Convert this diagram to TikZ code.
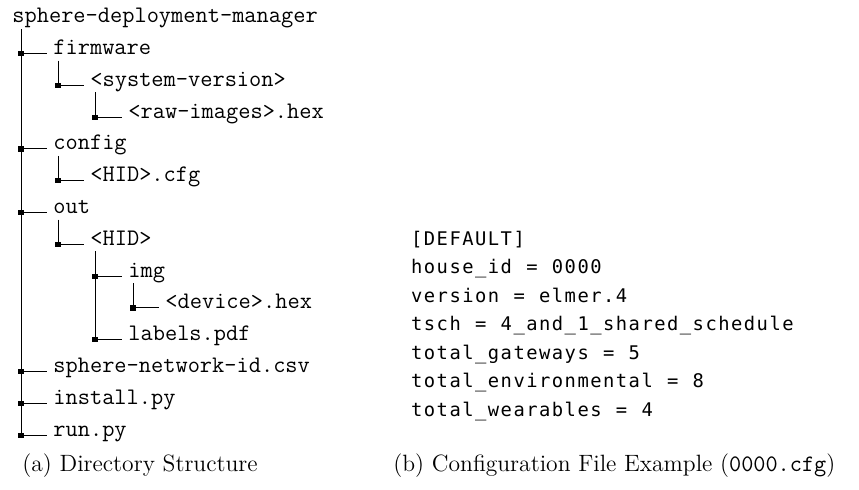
\documentclass[tikz,border=0pt]{standalone}
\usepackage{fontspec}
\newfontfamily\cfgfont{DejaVu Sans Mono}
\makeatletter
\newcommand\cellrow[1]{\@tfor\cellchar:=#1\do{\makebox[6.4pt][c]{\cellchar}}}
\makeatother
\begin{document}
\begin{tikzpicture}[x=0.5pt,y=-0.5pt]
  \tikzset{ entry/.style={anchor=base west, inner sep=0pt, font=\fontsize{11.86}{13}\selectfont\ttfamily},
    branch/.style={draw, line width=0.5pt},
    knot/.style={fill, rectangle, minimum size=2.6pt, inner sep=0pt},
    cfgline/.style={anchor=base west, inner sep=0pt, font=\fontsize{9.4}{11}\selectfont\cfgfont},
    caption/.style={anchor=base west, inner sep=0pt, font=\fontsize{11.8}{13}\selectfont} };
  \useasboundingbox (0,0) rectangle (859,489);
  % directory tree
  \node[entry] (root) at (12,22) {sphere-deployment-manager};
  \node[entry] (fw) at (53,54.5) {firmware};
  \node[entry] (sysver) at (90,86.3) {<system-version>};
  \node[entry] (raw) at (128,118.1) {<raw-images>.hex};
  \node[entry] (config) at (53,149.9) {config};
  \node[entry] (hidcfg) at (90,181.7) {<HID>.cfg};
  \node[entry] (out) at (53,213.5) {out};
  \node[entry] (hid) at (90,245.3) {<HID>};
  \node[entry] (img) at (128,277.1) {img};
  \node[entry] (device) at (165,308.9) {<device>.hex};
  \node[entry] (labels) at (128,340.7) {labels.pdf};
  \node[entry] (netid) at (53,372.5) {sphere-network-id.csv};
  \node[entry] (install) at (53,404.3) {install.py};
  \node[entry] (run) at (53,436.1) {run.py};
  \coordinate (s-root) at ([shift={(4.5pt,-3.5pt)}]root.base west);
  \coordinate (s-fw) at ([shift={(2.5pt,-3pt)}]fw.base west);
  \coordinate (s-sysver) at ([shift={(2.5pt,-3pt)}]sysver.base west);
  \coordinate (s-config) at ([shift={(2.5pt,-3pt)}]config.base west);
  \coordinate (s-out) at ([shift={(2.5pt,-3pt)}]out.base west);
  \coordinate (s-hid) at ([shift={(2.5pt,-3pt)}]hid.base west);
  \coordinate (s-img) at ([shift={(2.5pt,-3pt)}]img.base west);
  \draw[branch] (s-root) |- node[knot] (k-fw) {} ([shift={(-3pt,0.5pt)}]fw.base west);
  \draw[branch] (s-root) |- node[knot] (k-config) {} ([shift={(-3pt,0.5pt)}]config.base west);
  \draw[branch] (s-root) |- node[knot] (k-out) {} ([shift={(-3pt,0.5pt)}]out.base west);
  \draw[branch] (s-root) |- node[knot] (k-netid) {} ([shift={(-3pt,0.5pt)}]netid.base west);
  \draw[branch] (s-root) |- node[knot] (k-install) {} ([shift={(-3pt,0.5pt)}]install.base west);
  \draw[branch] (s-root) |- node[knot] (k-run) {} ([shift={(-3pt,0.5pt)}]run.base west);
  \draw[branch] (s-fw) |- node[knot] (k-sysver) {} ([shift={(-3pt,0.5pt)}]sysver.base west);
  \draw[branch] (s-sysver) |- node[knot] (k-raw) {} ([shift={(-3pt,0.5pt)}]raw.base west);
  \draw[branch] (s-config) |- node[knot] (k-hidcfg) {} ([shift={(-3pt,0.5pt)}]hidcfg.base west);
  \draw[branch] (s-out) |- node[knot] (k-hid) {} ([shift={(-3pt,0.5pt)}]hid.base west);
  \draw[branch] (s-hid) |- node[knot] (k-img) {} ([shift={(-3pt,0.5pt)}]img.base west);
  \draw[branch] (s-hid) |- node[knot] (k-labels) {} ([shift={(-3pt,0.5pt)}]labels.base west);
  \draw[branch] (s-img) |- node[knot] (k-device) {} ([shift={(-3pt,0.5pt)}]device.base west);
  % configuration file
  \node[cfgline] (c1) at (410,245) {\cellrow{{[}DEFAULT{]}}};
  \node[cfgline] (c2) at (410,273.5) {\cellrow{house\_id~=~0000}};
  \node[cfgline] (c3) at (410,302) {\cellrow{version~=~elmer.4}};
  \node[cfgline] (c4) at (410,330.5) {\cellrow{tsch~=~4\_and\_1\_shared\_schedule}};
  \node[cfgline] (c5) at (410,359) {\cellrow{total\_gateways~=~5}};
  \node[cfgline] (c6) at (410,387.5) {\cellrow{total\_environmental~=~8}};
  \node[cfgline] (c7) at (410,416) {\cellrow{total\_wearables~=~4}};
  % captions
  \node[caption] (cap-a) at (22,471) {(a) Directory Structure};
  \node[caption] (cap-b) at (393,471) {(b) Configuration File Example (\texttt{0000.cfg})};
\end{tikzpicture}
\end{document}
